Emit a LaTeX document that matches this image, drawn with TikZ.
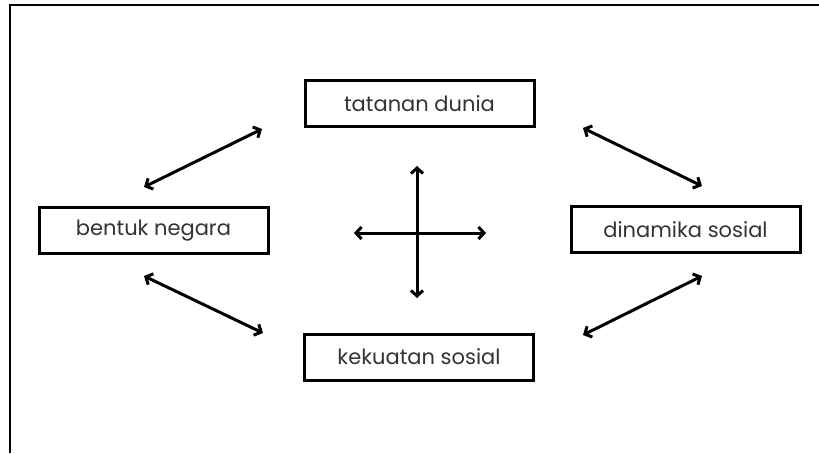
\documentclass[tikz,border=0pt]{standalone}
\usepackage{fontspec}
\setmainfont{Poppins}
\usetikzlibrary{arrows.meta}
\definecolor{txt}{HTML}{333333}
\begin{document}
\begin{tikzpicture}[x=1pt,y=-1pt,
  box/.style={draw=black,line width=3pt,minimum width=229pt,minimum height=46pt,inner sep=0pt,font=\fontsize{21}{24}\selectfont,text=txt},
  dbl/.style={line width=3pt,{Straight Barb[length=5.5pt,width=12pt]}-{Straight Barb[length=5.5pt,width=12pt]}},
  frame/.style={line width=2.6pt}]
\useasboundingbox (0,0) rectangle (819,453);
\draw[frame] (10,453) -- (10,5) -- (819,5);
\node[box] (td) at (419.5,103.5) {tatanan dunia};
\node[box] (bn) at (153.5,230.5) {bentuk negara};
\node[box] (ds) at (685.5,229.5) {dinamika sosial};
\node[box] (ks) at (419,357) {kekuatan sosial};
\coordinate (a1) at (144,187); \coordinate (a2) at (262,129);
\coordinate (b1) at (583,128); \coordinate (b2) at (702,186);
\coordinate (c1) at (144,276); \coordinate (c2) at (263,333);
\coordinate (d1) at (583,335); \coordinate (d2) at (702,276);
\coordinate (v1) at (417,166); \coordinate (v2) at (417,298);
\coordinate (h1) at (354,233); \coordinate (h2) at (486,233);
\draw[dbl] (a1) -- (a2);
\draw[dbl] (b1) -- (b2);
\draw[dbl] (c1) -- (c2);
\draw[dbl] (d1) -- (d2);
\draw[dbl] (v1) -- (v2);
\draw[dbl] (h1) -- (h2);
\end{tikzpicture}
\end{document}
